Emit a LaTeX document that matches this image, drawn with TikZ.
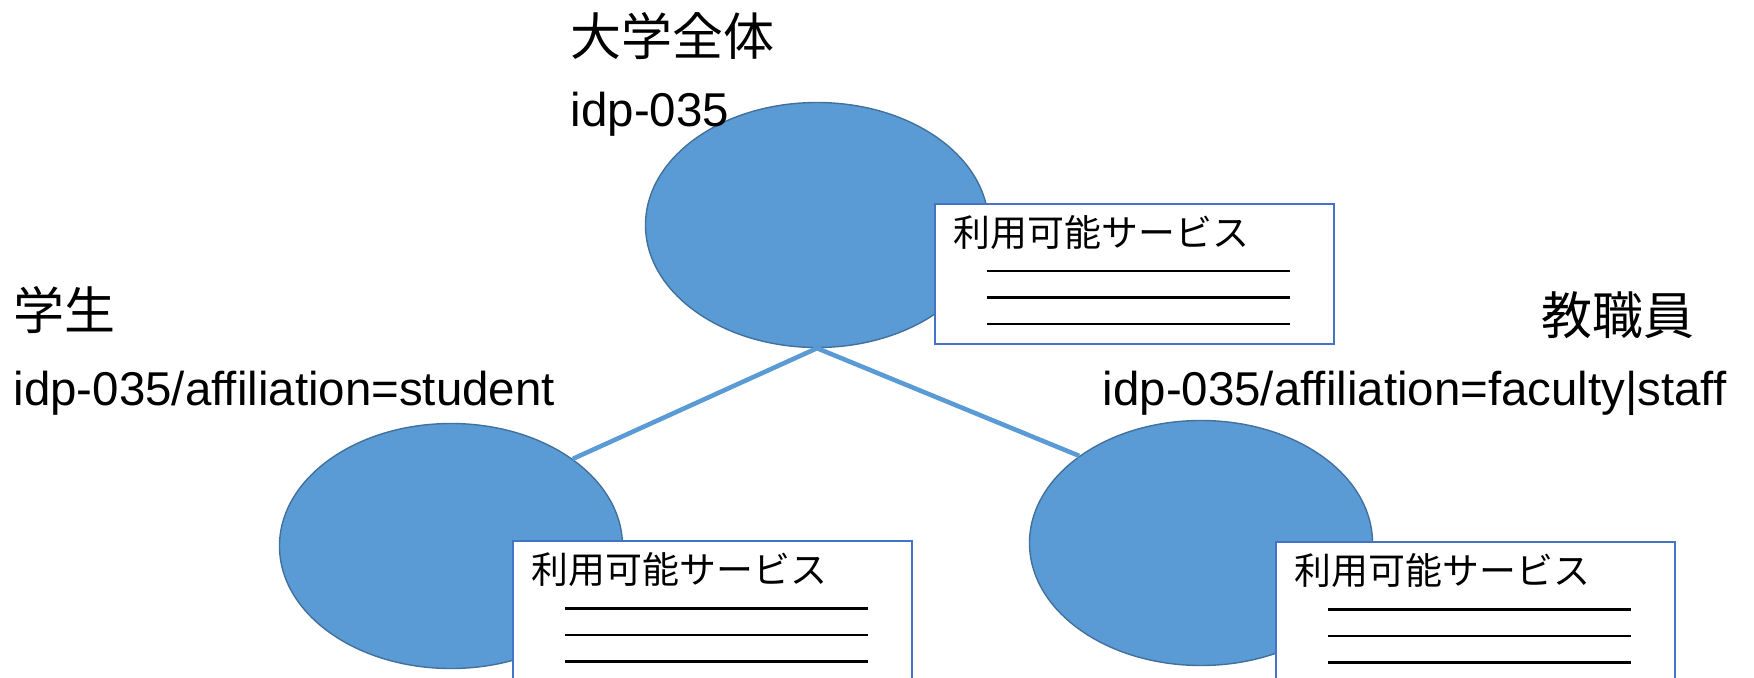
\documentclass[tikz,border=0pt]{standalone}
\usepackage{fontspec}
\setmainfont{Liberation Sans}
\newfontfamily\jp{Noto Sans CJK JP}
\usetikzlibrary{positioning,shapes.geometric}
\definecolor{fillblue}{HTML}{5B9BD5}
\definecolor{edgeblue}{HTML}{41719C}
\definecolor{boxblue}{HTML}{4472C4}
\begin{document}
\begin{tikzpicture}[
  grp/.style={ellipse,draw=edgeblue,fill=fillblue,line width=0.4pt,minimum width=3.43cm,minimum height=2.45cm,inner sep=0},
  svc/.style={draw=boxblue,fill=white,line width=0.7pt,minimum width=3.99cm,minimum height=1.40cm,anchor=north west,inner sep=0},
  head/.style={anchor=west,inner sep=0,font=\jp\fontsize{14.5}{17}\selectfont},
  idp/.style={anchor=base west,inner sep=0,font=\fontsize{13.5}{16}\selectfont},
  svctext/.style={anchor=north west,inner sep=0,font=\jp\fontsize{10.5}{12}\selectfont},
  link/.style={draw=fillblue,line width=1.3pt}]
  \useasboundingbox (0,0) rectangle (17.54,-6.78);
  \node (0) [grp] at (8.17,-2.25) {};
  \node (1) [grp,on grid,below left=3.21cm and 3.66cm of 0] {};
  \node (2) [grp,on grid,below right=3.18cm and 3.84cm of 0] {};
  \draw[link] (0.south) -- (1.north east);
  \draw[link] (0.south) -- (2.north west);
  \node (0b) [svc] at (9.34,-2.025) {};
  \node (1b) [svc] at (5.12,-5.40) {};
  \node (2b) [svc] at (12.75,-5.41) {};
  \foreach \b in {0b,1b,2b} {
    \node (t\b) [svctext] at ([shift={(0.19,-0.12)}]\b.north west) {利用可能サービス};
    \foreach \y in {0.685,0.95,1.215}
      \draw[line width=0.7pt] ([shift={(0.53,-\y)}]\b.north west) -- ++(3.03,0);
  }
  \node (0h) [head] at (5.70,-0.357) {大学全体};
  \node (0i) [idp] at (5.70,-1.26) {idp-035};
  \node (1h) [head] at (0.13,-3.10) {学生};
  \node (1i) [idp] at (0.13,-4.05) {idp-035/affiliation=student};
  \node (2h) [head] at (15.41,-3.15) {教職員};
  \node (2i) [idp] at (11.02,-4.05) {idp-035/affiliation=faculty|staff};
\end{tikzpicture}
\end{document}
